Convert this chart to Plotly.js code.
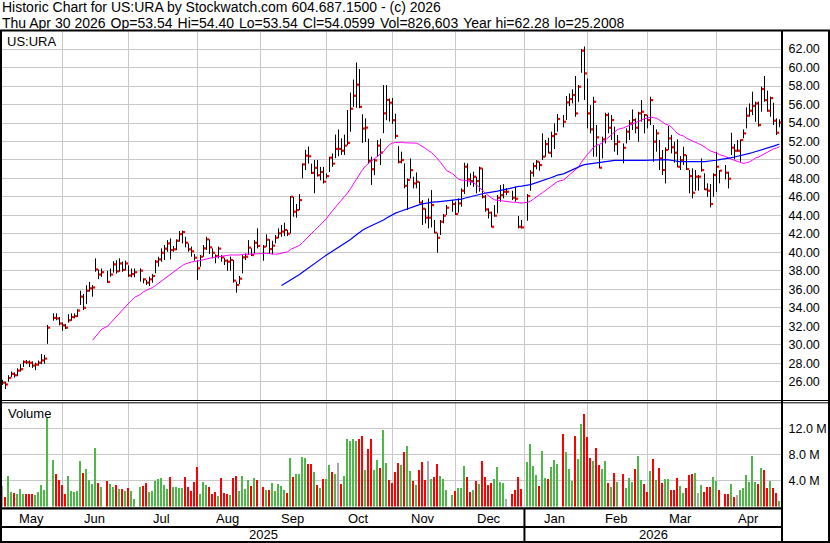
<!DOCTYPE html>
<html>
<head>
<meta charset="utf-8">
<script src="https://cdn.plot.ly/plotly-3.0.1.min.js"></script>
<style>
html,body{margin:0;padding:0;background:#fff;}
#chart{width:830px;height:543px;}
</style>
</head>
<body>
<div id="chart"></div>
<script>
// ---------- data ----------
const startDate = '2025-05-02';
const endDate = '2026-04-30';
const holidays = ['2025-05-26','2025-06-19','2025-07-04','2025-09-01','2025-11-27',
  '2025-12-25','2026-01-01','2026-01-19','2026-02-16','2026-04-03'];

const high = [
  26.20,26.00,26.70,27.10,27.00,27.45,27.90,28.30,28.35,28.30,28.20,28.05,28.30,29.00,28.90,32.15,33.40,33.40,33.00,32.40,
  32.25,33.30,33.40,33.40,33.85,35.85,35.50,36.45,36.80,36.45,39.35,38.15,38.25,38.00,38.25,39.05,39.15,39.35,39.00,39.10,
  38.60,38.25,38.25,38.27,37.19,37.01,37.37,37.66,39.17,39.53,40.43,40.79,41.33,41.51,40.69,41.41,42.31,42.35,41.69,40.97,40.62,39.82,
  39.17,39.71,40.79,41.69,41.41,40.43,39.78,40.62,39.71,39.42,39.24,39.53,39.17,36.83,37.44,39.71,39.89,41.33,40.43,41.33,42.60,
  40.79,41.95,41.41,41.26,41.87,42.60,42.96,43.21,42.42,46.10,46.02,45.23,46.31,49.63,51.10,51.45,49.60,50.00,50.00,49.25,49.25,
  48.55,50.35,50.70,52.75,53.30,52.35,52.75,55.40,57.30,58.70,60.55,59.85,54.95,54.50,52.30,50.35,50.15,52.15,52.30,58.10,58.10,56.65,56.70,
  55.00,51.50,50.90,49.63,48.00,50.17,48.19,48.65,47.64,45.66,44.76,45.84,46.74,43.50,42.06,43.50,44.15,45.12,45.66,
  45.48,45.84,46.93,49.70,49.63,48.55,48.73,48.19,49.27,49.09,46.20,44.76,44.40,45.12,46.20,47.28,47.39,46.93,46.67,47.10,43.93,43.50,
  46.31,48.91,49.70,49.99,49.81,52.88,52.16,52.41,53.06,53.96,54.97,54.86,56.92,57.20,57.64,59.08,58.11,62.00,62.28,58.83,
  55.94,56.84,53.78,51.61,52.52,55.11,55.11,54.86,53.60,52.70,51.79,53.42,54.32,55.47,54.50,55.22,56.48,54.97,54.86,
  56.84,53.78,53.31,52.16,51.08,51.37,53.67,52.70,51.98,52.23,50.42,51.44,50.53,48.91,49.09,48.91,48.37,50.17,48.55,47.47,47.39,48.55,
  50.89,48.91,49.45,48.73,52.95,51.73,52.16,52.23,53.31,55.69,56.12,57.39,56.31,56.31,57.93,59.08,57.50,56.85,56.20,54.50,54.40
];
const low = [
  25.65,25.20,26.00,26.50,26.45,26.60,27.10,27.60,27.90,27.60,27.50,27.25,27.75,27.90,27.95,30.10,32.60,32.65,32.10,31.50,
  31.70,32.40,32.60,32.85,33.00,34.30,33.75,34.40,35.75,35.20,37.90,37.10,37.35,36.70,37.35,37.80,37.70,37.90,37.90,38.05,
  37.35,37.30,37.30,36.83,36.65,36.47,36.36,36.72,37.73,38.45,38.99,39.17,40.07,39.24,40.07,40.25,41.15,40.97,40.54,40.07,39.53,39.10,
  37.01,38.45,39.53,40.25,39.82,39.35,38.81,39.35,38.99,38.63,38.02,38.02,36.72,35.64,36.57,37.73,39.17,39.71,39.60,39.89,40.43,
  39.10,40.61,39.82,39.79,40.97,41.51,41.69,41.76,41.76,42.06,43.86,43.75,44.58,48.01,48.90,49.60,48.50,46.40,48.20,47.80,47.45,
  48.00,48.70,49.25,50.20,50.40,50.55,50.55,51.60,53.05,55.75,55.65,55.60,51.85,51.95,49.65,47.30,48.35,50.35,49.45,52.90,54.30,54.15,53.90,
  52.30,49.63,49.63,46.93,44.58,48.00,46.93,46.93,45.30,42.96,43.14,42.60,42.70,42.06,39.97,41.88,43.14,44.04,44.40,
  44.04,44.29,44.94,46.31,47.10,47.28,47.10,46.39,46.57,45.84,44.40,43.68,42.70,43.86,44.22,45.48,45.84,46.20,45.66,45.48,42.60,42.56,
  43.42,46.67,48.19,48.98,48.84,49.99,50.35,50.71,50.28,51.18,53.06,53.53,54.32,55.83,56.12,54.68,56.30,59.44,56.50,53.42,
  52.88,50.35,50.35,49.09,50.17,51.79,52.88,52.16,50.89,50.53,49.63,51.79,52.16,53.24,52.88,51.97,54.14,52.88,53.42,
  53.78,49.81,50.89,48.91,48.37,47.47,51.08,50.71,49.71,49.20,48.91,49.45,48.91,46.38,45.84,46.67,46.67,48.73,46.74,46.02,44.87,46.02,
  46.56,47.47,47.90,46.92,50.53,50.07,50.89,49.81,52.34,53.42,54.68,54.86,54.14,53.60,55.22,56.30,55.22,54.68,53.78,52.70,53.54
];
const close = [
  25.90,25.70,26.40,26.85,26.70,27.20,27.35,28.15,28.10,28.05,27.75,27.85,28.05,28.30,28.50,31.85,32.90,32.85,32.30,32.10,
  31.85,32.65,33.00,33.10,33.70,35.20,34.00,35.85,36.10,36.20,38.15,37.60,37.85,36.80,37.60,38.70,37.95,38.80,38.10,38.80,
  37.50,37.65,37.85,38.02,37.08,36.72,37.08,37.44,38.99,39.24,39.96,40.40,40.97,40.25,40.33,41.26,41.98,42.20,41.04,40.33,40.11,39.42,
  38.27,39.53,40.43,41.41,40.54,39.96,39.60,40.40,39.46,39.10,38.99,39.17,36.94,36.47,37.15,39.46,39.53,40.51,39.71,41.04,40.69,
  40.61,41.37,40.36,40.72,41.59,42.06,42.24,42.42,42.02,46.02,44.40,44.58,45.66,49.52,50.47,50.40,48.60,49.15,48.35,48.70,47.65,
  48.25,50.25,49.60,51.20,51.20,51.00,51.55,51.85,55.55,56.95,58.15,55.75,53.40,53.50,49.90,49.00,49.95,51.55,50.80,55.05,56.50,56.20,54.30,
  52.60,49.80,49.99,47.20,47.83,48.90,47.46,47.64,45.37,44.72,43.75,43.75,45.12,42.13,41.58,43.32,43.97,44.83,45.23,
  44.15,45.30,46.67,49.27,47.90,47.72,48.19,47.72,49.09,46.02,44.65,44.29,42.77,43.97,45.91,46.20,46.56,46.56,45.91,45.80,42.77,42.70,
  46.10,48.62,49.34,49.81,49.45,50.35,51.72,50.78,52.59,52.80,54.43,54.14,56.23,56.59,57.03,55.04,57.93,61.83,59.37,55.04,
  53.31,56.30,52.45,49.16,52.23,54.86,53.49,54.32,51.72,51.97,51.32,53.06,53.96,54.32,53.49,55.04,55.22,54.86,54.32,
  56.48,51.98,52.88,50.17,48.91,51.08,52.34,51.37,50.78,49.27,49.99,50.53,49.02,48.26,46.45,48.19,48.19,48.91,46.82,46.67,45.23,48.37,
  49.27,48.84,48.62,47.97,51.33,51.00,51.00,52.16,52.88,54.79,55.33,55.84,56.12,53.78,57.68,56.48,55.33,56.70,54.25,52.95,54.06
];
// volume in millions of shares
const volume = [
  3.2,1.43,4.66,2.3,2.05,1.9,2.75,1.9,1.9,1.9,1.9,1.74,2.2,3.3,2.5,13.8,7.1,4.97,4.05,3.3,
  1.9,4.66,2.35,2.2,2.35,6.97,5.1,5.7,4.05,3.4,9.0,3.6,3.0,3.9,3.4,3.0,3.3,2.7,2.7,2.35,
  2.85,2.35,1.1,2.95,3.1,3.6,2.2,2.35,3.9,4.2,4.35,3.3,2.65,4.5,2.95,2.95,2.8,2.8,4.5,2.95,2.35,3.75,
  6.05,1.9,3.75,3.3,2.95,1.9,2.2,1.6,4.35,2.05,1.9,1.75,4.35,4.65,2.35,4.65,2.65,4.05,3.1,4.35,4.05,
  3.0,2.5,2.6,3.6,2.35,3.4,3.1,2.6,2.15,7.4,4.5,4.95,4.95,7.55,7.4,6.5,6.5,5.3,3.3,2.9,4.2,
  4.3,6.35,5.3,5.0,6.65,3.4,4.65,10.35,10.05,10.35,10.05,10.45,10.8,5.55,8.85,10.35,5.55,7.1,5.9,11.7,6.65,4.05,3.6,
  5.3,6.7,6.35,8.4,9.25,5.5,3.95,3.3,5.6,6.85,4.05,6.95,4.2,4.55,6.5,4.65,4.2,2.5,1.75,
  2.4,2.8,2.8,6.2,4.5,2.25,2.6,3.95,3.5,6.95,4.5,3.3,3.6,4.2,6.05,3.8,3.6,1.15,1.95,2.6,4.5,2.65,
  6.85,9.6,6.2,4.8,3.1,8.5,4.4,4.2,6.1,7.1,6.5,11.1,8.35,5.7,3.9,10.8,7.25,12.65,14.2,10.65,
  7.4,6.95,8.95,6.35,5.75,6.95,3.6,2.95,5.1,3.75,4.95,2.8,4.35,3.75,5.75,7.75,4.05,3.45,2.2,
  5.4,7.3,4.05,5.95,3.6,4.2,4.2,2.5,2.5,4.35,3.1,2.05,2.8,4.8,4.95,5.1,2.05,3.25,2.2,2.95,2.95,4.5,
  3.9,2.5,1.9,1.9,3.45,1.4,1.75,2.5,2.8,4.8,3.75,7.75,3.75,3.45,5.9,5.6,2.8,3.9,2.8,2.05,0.83
];
// volume bar colour per day: g = up, r = down, n = unchanged
const volDir = [
  'nrggrgggrrrggggggrrr','rgggggrggggrgrggrgrg','rgggrrgggggggrggggrrrr','rgggrrrgrrrgrrggggrgr',
  'rgrgggggrgrggggrrgrgr','ggrgnrgggggrrgrrggrggrr','rrgrggrgrrrngrrgggg','rgggrrgrgrrrrggggnrrrr',
  'ggggrggrgggrgggrggrr','rgrrggrgrgrgggrggrr','grgrrggrrrggrrrgngrrrg','grrrgrnggggggrgrrgrrg'
].join('');

const monthNames = ['May','Jun','Jul','Aug','Sep','Oct','Nov','Dec','Jan','Feb','Mar','Apr'];
const yearNames = ['2025','2026'];
const priceTicks = [26,28,30,32,34,36,38,40,42,44,46,48,50,52,54,56,58,60,62];
const volTicks = [4,8,12];
const volTickText = ['4.0 M','8.0 M','12.0 M'];
const maShort = 30, maLong = 90;

const titleLine1 = 'Historic Chart for US:URA by Stockwatch.com 604.687.1500 - (c) 2026';
const titleLine2 = ['Thu Apr 30 2026','Op=53.54','Hi=54.40','Lo=53.54','Cl=54.0599','Vol=826,603','Year hi=62.28','lo=25.2008'];

// ---------- weekday slots (weekends removed, holidays left as gaps) ----------
const holidaySet = new Set(holidays);
const slots = [], bounds = [];
let w = 0;
const d = new Date(startDate + 'T00:00:00Z'), dEnd = new Date(endDate + 'T00:00:00Z');
while (d <= dEnd) {
  const iso = d.toISOString().slice(0, 10), dow = d.getUTCDay();
  const weekend = dow === 0 || dow === 6;
  if (d.getUTCDate() === 1) bounds.push(weekend ? w - 0.7 : w + 0.25);
  if (!weekend) { if (!holidaySet.has(iso)) slots.push(w); w++; }
  d.setUTCDate(d.getUTCDate() + 1);
}
const xr = [0.1, w + 0.1];

// ---------- derived series ----------
function sma(arr, n) {
  return arr.map((v, i) => {
    if (i < n - 1) return null;
    let s = 0; for (let k = i - n + 1; k <= i; k++) s += arr[k];
    return s / n;
  });
}
const hlX = [], hlY = [];
slots.forEach((s, i) => { hlX.push(s + 0.2667, s + 0.2667, null); hlY.push(low[i], high[i], null); });
const colorMap = {g: '#4db848', r: '#ff0000', n: '#a8a8a8'};
const volColors = volDir.split('').map(c => colorMap[c]);

const FONT = 'Liberation Sans, Arial, sans-serif';
const W = 830, H = 543;
const px = v => v / W, py = v => 1 - v / H;
const GRID = '#c8c8c8';

const traces = [
  {type: 'scatter', mode: 'lines', x: hlX, y: hlY, xaxis: 'x', yaxis: 'y',
   line: {color: '#000', width: 1}, hoverinfo: 'skip', connectgaps: false},
  {type: 'scatter', mode: 'markers', x: slots.map(s => s + 0.7667), y: close, xaxis: 'x', yaxis: 'y',
   marker: {symbol: 'square', size: 2.2, color: '#ff0000', line: {width: 0}}, hoverinfo: 'skip'},
  {type: 'scatter', mode: 'lines', x: slots.map(s => s + 0.27), y: sma(close, maShort), xaxis: 'x', yaxis: 'y',
   line: {color: '#ff00ff', width: 1}, hoverinfo: 'skip'},
  {type: 'scatter', mode: 'lines', x: slots.map(s => s + 0.27), y: sma(close, maLong), xaxis: 'x', yaxis: 'y',
   line: {color: '#0000ff', width: 1.2}, hoverinfo: 'skip'},
  {type: 'bar', x: slots.map(s => s + 0.1), y: volume, width: 0.6667, xaxis: 'x2', yaxis: 'y2',
   marker: {color: volColors, line: {width: 0}}, hoverinfo: 'skip'}
];

const xCommon = {
  domain: [px(2), px(782)], range: xr, tickmode: 'array', tickvals: bounds,
  showticklabels: false, ticks: '', showgrid: true, gridcolor: GRID, gridwidth: 1,
  zeroline: false, showline: false, fixedrange: true
};
const yCommon = {
  side: 'right', showgrid: true, gridcolor: GRID, gridwidth: 1, zeroline: false, showline: false,
  ticks: 'outside', ticklen: 3, tickcolor: 'rgba(0,0,0,0)', tickmode: 'array',
  tickfont: {family: FONT, size: 12.5, color: '#000'}, fixedrange: true
};

// month labels centred between month gridlines
const edges = [xr[0]].concat(bounds, [xr[1]]);
const annotations = [];
monthNames.forEach((m, i) => {
  annotations.push({xref: 'x2', yref: 'paper', x: (edges[i] + edges[i + 1]) / 2 - 0.4, y: py(518.5),
    text: m, showarrow: false, xanchor: 'center', yanchor: 'middle', font: {family: FONT, size: 13, color: '#000'}});
});
const janB = bounds[monthNames.indexOf('Jan') - 1];
[[xr[0], janB], [janB, xr[1]]].forEach((p, i) => {
  annotations.push({xref: 'x2', yref: 'paper', x: (p[0] + p[1]) / 2, y: py(534.5),
    text: yearNames[i], showarrow: false, xanchor: 'center', yanchor: 'middle', font: {family: FONT, size: 13, color: '#000'}});
});
const txt = (x, y, t, sz) => ({xref: 'paper', yref: 'paper', x: px(x), y: py(y), text: t, showarrow: false,
  xanchor: 'left', yanchor: 'middle', borderpad: 0, font: {family: FONT, size: sz || 13, color: '#000'}});
annotations.push(txt(1, 6.8, titleLine1, 14));
annotations.push(txt(1, 22.8, titleLine2.join('\u00a0\u200a'), 14));
annotations.push(txt(6, 41.5, 'US:URA'));
annotations.push(txt(7, 413.5, 'Volume'));

const ln = (x0, y0, x1, y1, wd) => ({type: 'line', xref: 'paper', yref: 'paper', x0: px(x0), y0: py(y0), x1: px(x1), y1: py(y1),
  line: {color: '#000', width: wd}, layer: 'above'});
const shapes = [
  ln(0, 30.5, 830, 30.5, 2),
  ln(1, 30, 1, 543, 2),
  ln(782, 30, 782, 543, 2),
  ln(829, 30, 829, 543, 2),
  ln(0, 400.5, 830, 400.5, 1),
  ln(0, 402.8, 830, 402.8, 1),
  ln(0, 508.4, 782, 508.4, 2.4),
  ln(0, 527, 782, 527, 2),
  ln(0, 542, 830, 542, 2),
  {type: 'line', xref: 'x2', yref: 'paper', x0: janB, x1: janB, y0: py(509), y1: py(543), line: {color: '#000', width: 2}, layer: 'above'}
];

const layout = {
  width: W, height: H, margin: {l: 0, r: 0, t: 0, b: 0, pad: 0},
  paper_bgcolor: '#fff', plot_bgcolor: '#fff', showlegend: false,
  font: {family: FONT, size: 13, color: '#000'},
  xaxis: Object.assign({}, xCommon, {anchor: 'y'}),
  xaxis2: Object.assign({}, xCommon, {anchor: 'y2', matches: 'x'}),
  yaxis: Object.assign({}, yCommon, {anchor: 'x', domain: [py(400), py(32)], range: [24.02, 63.85],
    tickvals: priceTicks, ticktext: priceTicks.map(v => v.toFixed(2))}),
  yaxis2: Object.assign({}, yCommon, {anchor: 'x2', domain: [py(506.5), py(403)], range: [0, 15.92],
    tickvals: volTicks, ticktext: volTickText}),
  shapes: shapes, annotations: annotations, bargap: 0
};

Plotly.newPlot('chart', traces, layout, {staticPlot: true, displayModeBar: false});
</script>
</body>
</html>
